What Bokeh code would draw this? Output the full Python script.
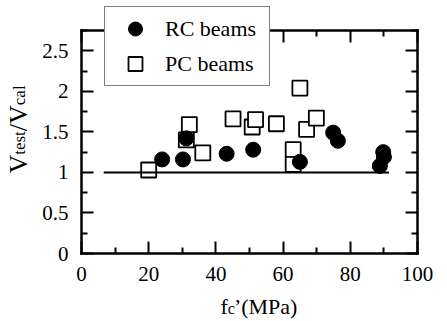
import math
from bokeh.plotting import figure
from bokeh.models import (Range1d, FixedTicker, LinearAxis, NumeralTickFormatter,
                          Legend, LegendItem, Label)
from bokeh.embed import file_html
from bokeh.resources import INLINE

# ---- data ----
rc_fc = [24.0, 30.2, 31.2, 43.2, 51.1, 65.0, 74.9, 76.3, 89.8, 90.0, 88.8]
rc_ratio = [1.16, 1.16, 1.42, 1.23, 1.28, 1.13, 1.49, 1.39, 1.25, 1.19, 1.08]

pc_fc = [20.0, 31.2, 32.1, 36.1, 45.1, 50.8, 51.8, 58.0, 63.0, 63.0, 65.0, 67.0, 69.9]
pc_ratio = [1.03, 1.40, 1.59, 1.24, 1.66, 1.56, 1.65, 1.60, 1.28, 1.10, 2.04, 1.53, 1.67]

ref_fc = [6.6, 91.5]
ref_ratio = [1.0, 1.0]

x_ticks = [0, 20, 40, 60, 80, 100]
x_minor = [10, 30, 50, 70, 90]
y_ticks = [0, 0.5, 1, 1.5, 2, 2.5]
y_minor = [0.25, 0.75, 1.25, 1.75, 2.25, 2.75]
x_lim = (0, 100)
y_lim = (0, 2.75)
legend_labels = ["RC beams", "PC beams"]

FONT = "Liberation Serif"

# ---- layout (pixels) ----
W, H = 445, 320
BOX_L, BOX_R, BOX_T, BOX_B = 81, 417, 30, 253   # where the axes box sits

xpx = (BOX_R - BOX_L) / (x_lim[1] - x_lim[0])
ypx = (BOX_B - BOX_T) / (y_lim[1] - y_lim[0])
x_range = Range1d(x_lim[0] - BOX_L / xpx, x_lim[1] + (W - BOX_R) / xpx)
y_range = Range1d(y_lim[0] - (H - BOX_B) / ypx, y_lim[1] + BOX_T / ypx)

p = figure(width=W, height=H, output_backend="svg", toolbar_location=None,
           x_range=x_range, y_range=y_range,
           x_axis_type=None, y_axis_type=None, min_border=0)
p.outline_line_color = None
p.background_fill_color = "white"
p.border_fill_color = "white"
p.xgrid.visible = False
p.ygrid.visible = False


def style_axis(ax, show_labels):
    ax.axis_line_color = "black"
    ax.axis_line_width = 2.5
    ax.axis_line_cap = "square"
    ax.major_tick_in = 12
    ax.major_tick_out = 0
    ax.minor_tick_in = 6
    ax.minor_tick_out = 0
    ax.major_tick_line_width = 2
    ax.minor_tick_line_width = 2
    ax.major_tick_line_color = "black"
    ax.minor_tick_line_color = "black"
    ax.major_label_text_font = FONT
    if show_labels:
        ax.major_label_text_font_size = "21px"
        ax.major_label_text_color = "black"
    else:
        ax.major_label_text_font_size = "1px"
        ax.major_label_text_alpha = 0
        ax.major_label_standoff = 0


for side, loc in [("below", y_lim[0]), ("above", y_lim[1])]:
    ax = LinearAxis(ticker=FixedTicker(ticks=x_ticks, minor_ticks=x_minor),
                    fixed_location=loc, bounds=x_lim)
    style_axis(ax, side == "below")
    if side == "below":
        ax.major_label_standoff = 13
    p.add_layout(ax, side)

for side, loc in [("left", x_lim[0]), ("right", x_lim[1])]:
    ax = LinearAxis(ticker=FixedTicker(ticks=y_ticks, minor_ticks=y_minor),
                    formatter=NumeralTickFormatter(format="0.[0]"),
                    fixed_location=loc, bounds=y_lim)
    style_axis(ax, side == "left")
    if side == "left":
        ax.major_label_standoff = 13
    p.add_layout(ax, side)

sq = p.scatter(pc_fc, pc_ratio, marker="square", size=15, fill_color="white",
               line_color="black", line_width=1.8)
p.line(ref_fc, ref_ratio, line_color="black", line_width=2)
ci = p.scatter(rc_fc, rc_ratio, marker="circle", size=15, fill_color="black",
               line_color="black")

legend = Legend(items=[LegendItem(label=legend_labels[0], renderers=[ci]),
                       LegendItem(label=legend_labels[1], renderers=[sq])],
                location=(104, H - 86), padding=4, spacing=0, margin=0,
                glyph_width=52, glyph_height=35, label_height=35,
                label_width=100, label_standoff=4,
                border_line_color="black", border_line_width=1.5,
                background_fill_color="white", background_fill_alpha=1.0,
                label_text_font=FONT, label_text_font_size="22px",
                label_text_color="black")
p.add_layout(legend, "center")

# ---- y axis title: V_test / V_cal (rotated), page pixel positions ----
y_parts = [("V", 26, 17.5, 173.1), ("test", 17, 19.0, 154.3),
           ("/", 26, 17.5, 130.7), ("V", 26, 17.5, 123.5),
           ("cal", 17, 19.0, 104.7)]
for txt, fs, px, py in y_parts:
    p.add_layout(Label(x=px, y=H - py, x_units="screen", y_units="screen",
                       text=txt, angle=math.pi / 2, text_font=FONT,
                       text_font_size=f"{fs}px", text_color="black",
                       text_align="left", text_baseline="alphabetic"))

# ---- x axis title: f_c' (MPa) ----
x_parts = [("f", 22, 220.0, 306.0), ("c", 16, 227.3, 308.0),
           ("\u2019", 22, 233.4, 306.0), ("(MPa)", 22, 240.7, 306.0)]
for txt, fs, px, py in x_parts:
    p.add_layout(Label(x=px, y=H - py, x_units="screen", y_units="screen",
                       text=txt, text_font=FONT, text_font_size=f"{fs}px",
                       text_color="black", text_align="left",
                       text_baseline="alphabetic"))

open("out.html", "w").write(file_html(p, INLINE))
